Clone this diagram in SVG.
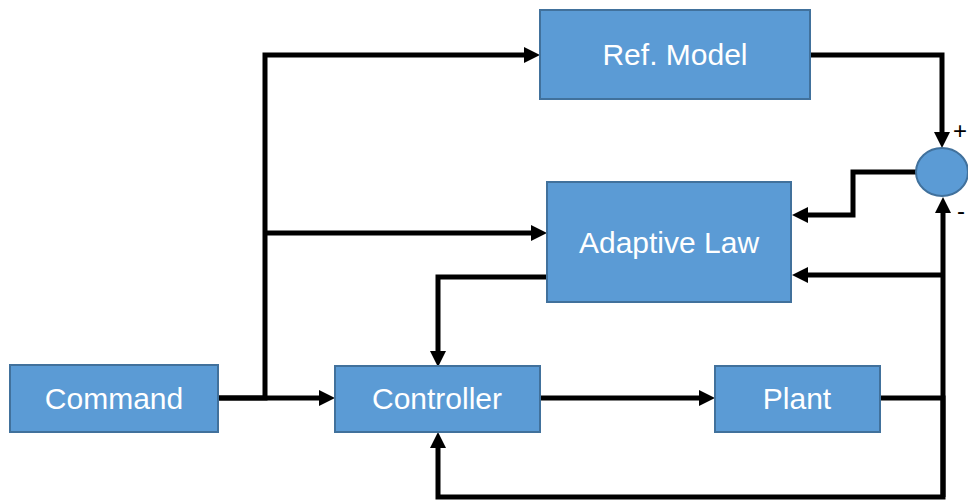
<svg xmlns="http://www.w3.org/2000/svg" width="968" height="500" viewBox="0 0 968 500">
<style>
.box{fill:#5B9BD5;stroke:#41719C;stroke-width:2}
.lbl{font-family:"Liberation Sans",Arial,sans-serif;font-size:30px;fill:#fff;text-anchor:middle}
.sign{font-family:"Liberation Sans",Arial,sans-serif;font-size:24px;fill:#000}
.c{fill:none;stroke:#000;stroke-width:5;stroke-linejoin:miter}
.a{marker-end:url(#ah)}
</style>
<defs>
<marker id="ah" markerUnits="userSpaceOnUse" markerWidth="16" markerHeight="16" refX="2" refY="8" orient="auto">
<path d="M0,0 L16,8 L0,16 z" fill="#000"/>
</marker>
</defs>
<rect width="968" height="500" fill="#fff"/>
<g id="connectors">
<path class="c a" d="M218,398 H265 V55 H526"/>
<path class="c a" d="M218,398 H321"/>
<path class="c a" d="M265,233 H533"/>
<path class="c a" d="M810,55 H942 V134"/>
<path class="c a" d="M916,172 H853 V215 H806"/>
<path class="c a" d="M547,277 H438 V353"/>
<path class="c a" d="M540,398 H701"/>
<path class="c" d="M880,398 H943 V497 H438 V446"/>
<path class="c a" d="M943,497 V211"/>
<path class="c a" d="M943,275 H806"/>
<path d="M438,432 l-8,16 h16 z" fill="#000"/>
</g>
<g id="ref-model"><rect class="box" x="540" y="10" width="270" height="89"/><text class="lbl" x="675" y="65">Ref. Model</text></g>
<g id="adaptive-law"><rect class="box" x="547" y="182" width="244" height="120"/><text class="lbl" x="669" y="253">Adaptive Law</text></g>
<g id="command"><rect class="box" x="10" y="365" width="208" height="67"/><text class="lbl" x="114" y="409">Command</text></g>
<g id="controller"><rect class="box" x="335" y="366" width="205" height="66"/><text class="lbl" x="437" y="409">Controller</text></g>
<g id="plant"><rect class="box" x="715" y="366" width="165" height="66"/><text class="lbl" x="797" y="409">Plant</text></g>
<g id="sum"><ellipse class="box" cx="942" cy="172" rx="26" ry="24"/><text class="sign" x="953" y="139">+</text><text class="sign" x="957" y="219">-</text></g>
</svg>
